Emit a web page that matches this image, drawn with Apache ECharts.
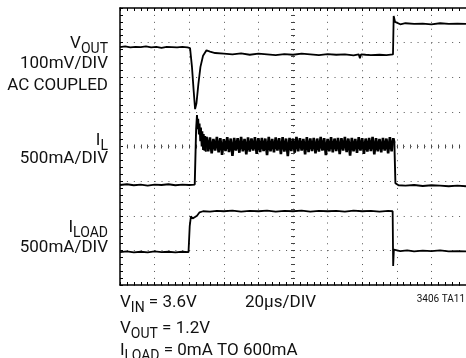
<!DOCTYPE html>
<html><head><meta charset="utf-8">
<script src="https://cdn.jsdelivr.net/npm/echarts@6/dist/echarts.min.js"></script>
<style>html,body{margin:0;padding:0;background:#fff}#c{width:466px;height:358px}</style>
</head><body><div id="c"></div>
<script>
// time in microseconds (20us/DIV), vertical in scope divisions (0 = screen centre)
const timeTicks = [0, 20, 40, 60, 80, 100, 120, 140, 160, 180, 200];
const vout = [[0,2.87],[3,2.89],[6,2.86],[9,2.88],[12,2.87],[15,2.89],[18,2.86],[21,2.88],[24,2.85],[27,2.88],[30,2.87],[33,2.86],[36,2.88],[39,2.86],[40.5,2.84],[41.6,2.3],[42.6,1.6],[43.4,1.08],[44.2,1.25],[45.3,1.8],[46.5,2.3],[48,2.62],[50,2.78],[52,2.74],[55,2.7],[60,2.68],[65,2.66],[70,2.69],[75,2.65],[80,2.68],[85,2.66],[90,2.64],[95,2.67],[100,2.65],[105,2.68],[110,2.66],[115,2.64],[120,2.67],[125,2.65],[130,2.66],[135,2.63],[138,2.66],[138.7,2.55],[139.3,2.66],[142,2.65],[145,2.64],[150,2.65],[154,2.64],[157.8,2.66],[158.2,3.77],[159,3.6],[160,3.55],[162,3.53],[165,3.56],[170,3.54],[175,3.55],[180,3.53],[185,3.56],[190,3.54],[195,3.55],[200,3.54]];
const ilBefore = [[0,-1.11],[4,-1.09],[8,-1.12],[12,-1.1],[16,-1.13],[20,-1.1],[24,-1.11],[28,-1.09],[32,-1.12],[36,-1.1],[40,-1.11],[43.2,-1.1],[44.0,0.5],[44.5,0.91],[44.9,0.5],[45.2,0.8],[45.6,0.35],[46.0,0.66],[46.4,0.15],[46.8,0.55],[47.2,0.0],[47.6,0.44],[48.0,-0.1],[48.4,0.36],[48.8,-0.12],[49.2,0.3],[49.6,-0.15],[50.0,0.28]];
const ilRippleT0 = 51, ilRippleDt = 1;
const ilRipple = [-0.14,0.26,-0.2,0.22,-0.12,0.28,-0.17,0.24,-0.24,0.21,
 -0.13,0.27,-0.16,0.23,-0.27,0.25,-0.12,0.24,-0.18,0.28,
 -0.14,0.22,-0.23,0.26,-0.15,0.23,-0.12,0.27,-0.21,0.24,
 -0.16,0.25,-0.13,0.23,-0.25,0.28,-0.14,0.22,-0.17,0.26,
 -0.12,0.24,-0.22,0.27,-0.15,0.23,-0.28,0.25,-0.13,0.23,
 -0.18,0.28,-0.14,0.24,-0.12,0.22,-0.23,0.27,-0.16,0.23,
 -0.13,0.25,-0.2,0.23,-0.15,0.28,-0.12,0.24,-0.25,0.22,
 -0.14,0.27,-0.17,0.23,-0.13,0.25,-0.22,0.24,-0.12,0.28,
 -0.16,0.23,-0.26,0.25,-0.14,0.22,-0.18,0.27,-0.12,0.24,
 -0.21,0.23,-0.15,0.25,-0.13,0.28,-0.23,0.24,-0.14,0.22,
 -0.17,0.25,-0.12,0.23,-0.2,0.27,-0.14,0.24];
const ilAfter = [[158.6,0.1],[159.2,-1.06],[160,-1.05],[161,-1.12],[165,-1.13],[170,-1.11],[175,-1.14],[180,-1.12],[185,-1.13],[190,-1.15],[195,-1.13],[200,-1.15]];
const iload = [[0,-3.05],[4,-3.03],[8,-3.06],[12,-3.04],[16,-3.06],[20,-3.03],[24,-3.05],[28,-3.04],[32,-3.06],[36,-3.04],[39.6,-3.05],[40.3,-2.3],[41,-2.02],[42,-2.08],[43,-2.1],[44.5,-2.0],[46,-1.9],[48,-1.87],[52,-1.88],[56,-1.86],[60,-1.87],[65,-1.85],[70,-1.88],[75,-1.86],[80,-1.87],[85,-1.85],[90,-1.88],[95,-1.86],[100,-1.87],[105,-1.85],[110,-1.88],[115,-1.86],[120,-1.87],[125,-1.86],[130,-1.88],[135,-1.85],[140,-1.87],[145,-1.86],[150,-1.88],[155,-1.86],[157.6,-1.87],[157.9,-3.45],[158.3,-2.98],[159,-3.0],[162,-3.02],[166,-3.0],[170,-3.03],[175,-3.01],[180,-3.02],[185,-3.0],[190,-3.03],[195,-3.02],[200,-3.03]];

const leftLabels = [
  {t:'{m|V}{s|OUT}', b:48}, {t:'{m|100mV/DIV}', b:68}, {t:'{m|AC COUPLED}', b:90},
  {t:'{m|I}{s|L}', b:145}, {t:'{m|500mA/DIV}', b:163},
  {t:'{m|I}{s|LOAD}', b:232}, {t:'{m|500mA/DIV}', b:252}
];
const bottomLabels = [
  {t:'{m|V}{s|IN}{m| = 3.6V}', x:120, b:308},
  {t:'{m|20μs/DIV}', x:245, b:308},
  {t:'{m|V}{s|OUT}{m| = 1.2V}', x:120, b:334},
  {t:'{m|I}{s|LOAD}{m| = 0mA TO 600mA}', x:120, b:356}
];

const ilRippleData = [ilBefore[ilBefore.length-1]].concat(ilRipple.map((v,i)=>[ilRippleT0 + i*ilRippleDt, v])).concat([ilAfter[0]]);

const FONT = 'Roboto';
const rich = {
  m:{fontSize:17, fontFamily:FONT, lineHeight:20, verticalAlign:'top', fill:'#111'},
  s:{fontSize:14, fontFamily:FONT, lineHeight:14, verticalAlign:'top', padding:[7,0,0,0], fill:'#111'}
};
const graphics = [];
leftLabels.forEach(l=>graphics.push({type:'text', style:{text:l.t, rich:rich, x:108, y:l.b-13, align:'right', verticalAlign:'top'}}));
bottomLabels.forEach(l=>graphics.push({type:'text', style:{text:l.t, rich:rich, x:l.x, y:l.b-13.5, align:'left', verticalAlign:'top'}}));
graphics.push({type:'text', style:{text:'3406 TA11', x:465, y:299.5, fontSize:10, fontFamily:FONT, fill:'#111', align:'right', verticalAlign:'middle'}});

const G = {left:120, top:8, right:0, height:277};
const dotted = {show:true, lineStyle:{color:'#555', width:1, type:[1,5.92]}};
const borderLine = {show:true, lineStyle:{color:'#000', width:1.5}};
const tick = {show:true, inside:true, length:3, lineStyle:{color:'#000', width:1}};
const minor = {show:true, splitNumber:5, length:3, lineStyle:{color:'#000', width:1}};
const ctick = (inside)=>({show:true, inside:inside, length:2, lineStyle:{color:'#444', width:1}});
const cminor = {show:true, splitNumber:5, length:2, lineStyle:{color:'#444', width:1}};
const trace = (data, w)=>({type:'line', xAxisIndex:0, yAxisIndex:0, data:data, showSymbol:false, lineStyle:{color:'#000', width:w}});

const chart = echarts.init(document.getElementById('c'), null, {renderer:'canvas'});
chart.setOption({
  animation:false,
  backgroundColor:'#fff',
  grid:[Object.assign({}, G), Object.assign({}, G)],
  xAxis:[
    {gridIndex:0, type:'value', min:timeTicks[0], max:timeTicks[timeTicks.length-1], interval:20, position:'bottom', axisLine:Object.assign({onZero:false}, borderLine), axisTick:tick, minorTick:minor, axisLabel:{show:false}, splitLine:dotted},
    {gridIndex:0, type:'value', min:0, max:200, interval:20, position:'top', axisLine:Object.assign({onZero:false}, borderLine), axisTick:tick, minorTick:minor, axisLabel:{show:false}, splitLine:{show:false}},
    {gridIndex:1, type:'value', min:-5, max:5, interval:1, position:'bottom', axisLine:{show:false, onZero:true, onZeroAxisIndex:2}, axisTick:ctick(false), minorTick:cminor, axisLabel:{show:false}, splitLine:{show:false}},
    {gridIndex:1, type:'value', min:-5, max:5, interval:1, position:'top', axisLine:{show:false, onZero:true, onZeroAxisIndex:2}, axisTick:ctick(false), minorTick:cminor, axisLabel:{show:false}, splitLine:{show:false}}
  ],
  yAxis:[
    {gridIndex:0, type:'value', min:-4, max:4, interval:1, position:'left', axisLine:Object.assign({onZero:false}, borderLine), axisTick:tick, minorTick:minor, axisLabel:{show:false}, splitLine:dotted},
    {gridIndex:0, type:'value', min:-4, max:4, interval:1, position:'right', axisLine:{show:false, onZero:false}, axisTick:{show:false}, axisLabel:{show:false}, splitLine:{show:false}},
    {gridIndex:1, type:'value', min:-4, max:4, interval:1, position:'left', axisLine:{show:false, onZero:true, onZeroAxisIndex:2}, axisTick:ctick(false), minorTick:cminor, axisLabel:{show:false}, splitLine:{show:false}},
    {gridIndex:1, type:'value', min:-4, max:4, interval:1, position:'right', axisLine:{show:false, onZero:true, onZeroAxisIndex:2}, axisTick:ctick(false), minorTick:cminor, axisLabel:{show:false}, splitLine:{show:false}}
  ],
  series:[
    trace(vout, 1.8),
    trace(ilBefore, 1.9),
    trace(ilRippleData, 2.6),
    trace(ilAfter, 1.9),
    trace(iload, 1.8)
  ],
  graphic:graphics
});
</script></body></html>
